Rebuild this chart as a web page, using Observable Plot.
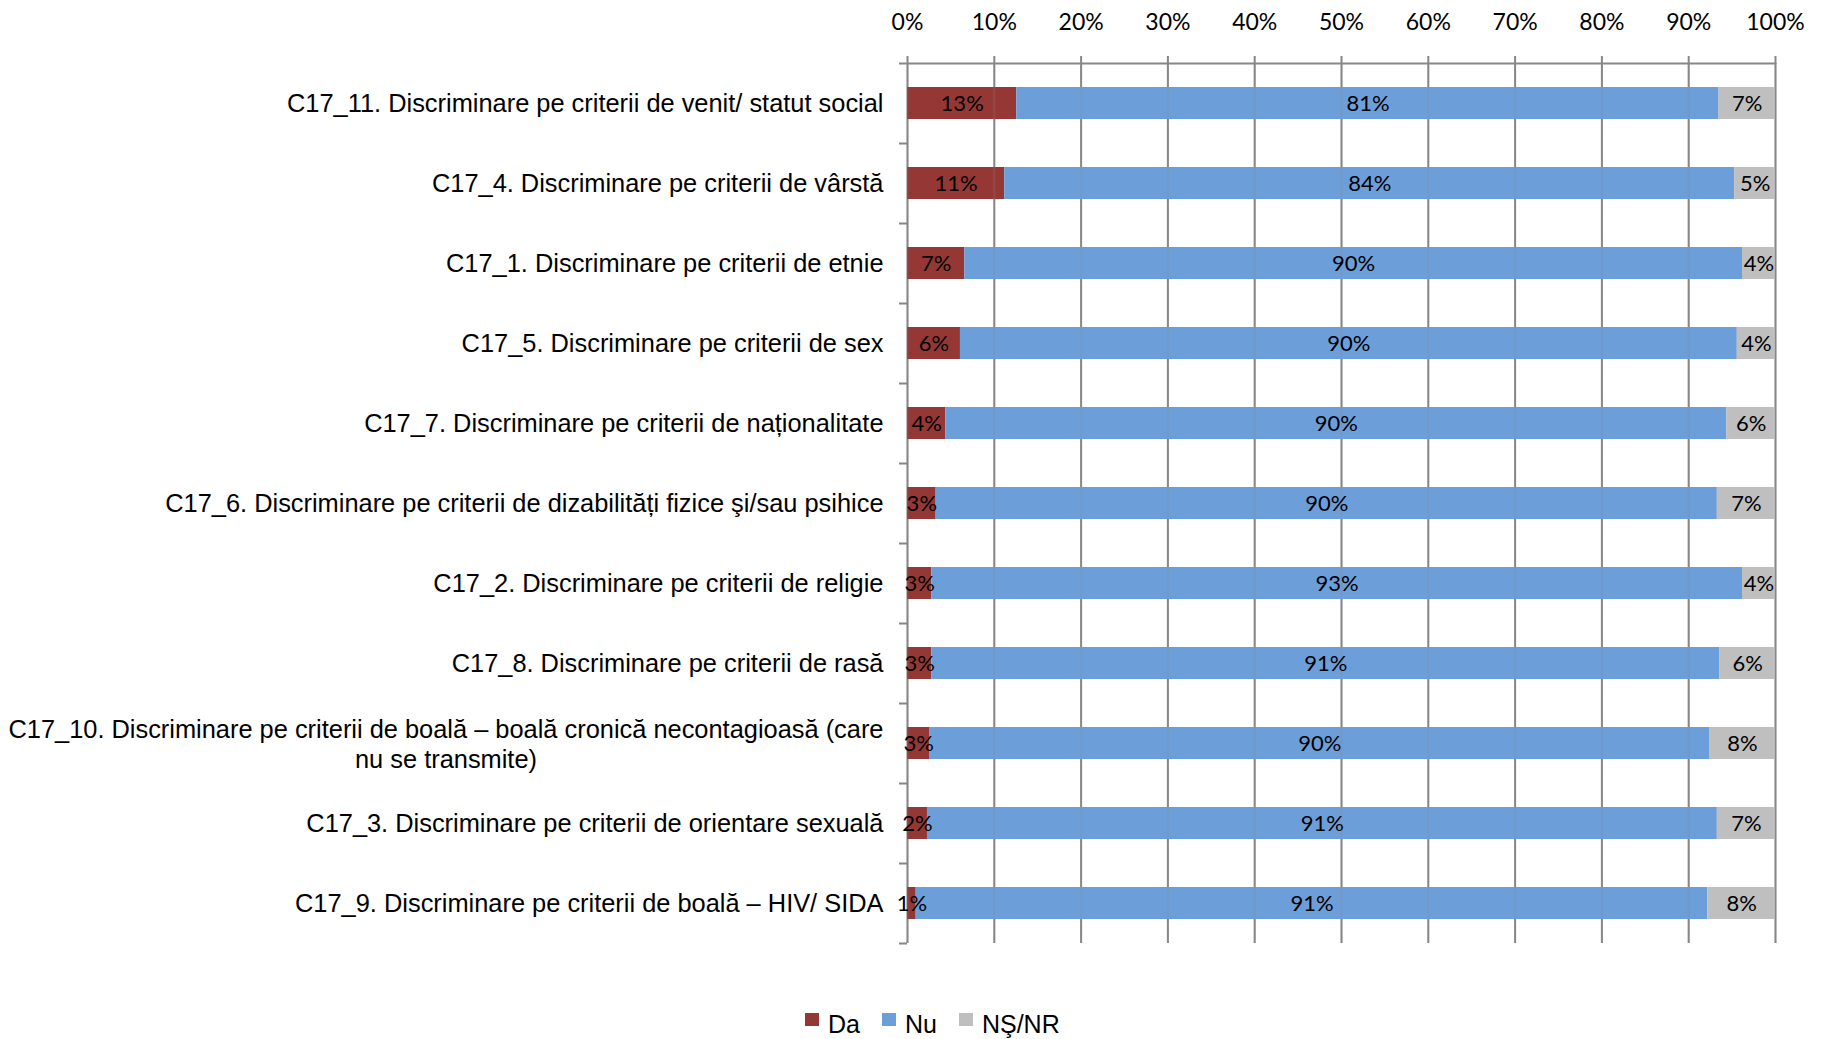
<!DOCTYPE html>
<html>
<head>
<meta charset="utf-8">
<script src="https://cdn.jsdelivr.net/npm/d3@7"></script>
<script src="https://cdn.jsdelivr.net/npm/@observablehq/plot@0.6"></script>
<style>
  html, body { margin: 0; padding: 0; background: #fff; }
  #chart { position: relative; width: 1827px; height: 1039px; }
  #legend { position: absolute; left: 805px; top: 1012px; display: flex; gap: 22px;
    font-family: "Liberation Sans", Arial, sans-serif; font-size: 25px; line-height: 25px; color: #000; }
  .item { display: flex; align-items: center; }
  .sw { display: inline-block; width: 14px; height: 13px; margin-right: 9px; position: relative; top: -5px; }
</style>
</head>
<body>
<div id="chart"></div>
<script>
// ---- data ----
const categories = [
  "C17_11. Discriminare pe criterii de venit/ statut social",
  "C17_4. Discriminare pe criterii de vârstă",
  "C17_1. Discriminare pe criterii de etnie",
  "C17_5. Discriminare pe criterii de sex",
  "C17_7. Discriminare pe criterii de naționalitate",
  "C17_6. Discriminare pe criterii de dizabilități fizice şi/sau psihice",
  "C17_2. Discriminare pe criterii de religie",
  "C17_8. Discriminare pe criterii de rasă",
  "C17_10. Discriminare pe criterii de boală – boală cronică necontagioasă (care nu se transmite)",
  "C17_3. Discriminare pe criterii de orientare sexuală",
  "C17_9. Discriminare pe criterii de boală – HIV/ SIDA"
];
const series = ["Da", "Nu", "NŞ/NR"];
const da   = [12.6, 11.2, 6.6, 6.1, 4.4, 3.3, 2.8, 2.8, 2.6, 2.3, 1.0];
const nu   = [80.9, 84.1, 89.6, 89.5, 90.0, 90.0, 93.4, 90.8, 89.8, 91.0, 91.2];
const nsnr = [6.5, 4.7, 3.8, 4.4, 5.6, 6.7, 3.8, 6.4, 7.6, 6.7, 7.8];
const xTicks = [0, 10, 20, 30, 40, 50, 60, 70, 80, 90, 100];
const colors = ["#953735", "#6C9EDA", "#BFBFBF"];

// ---- table ----
const seriesValues = [da, nu, nsnr];
const rows = [];
categories.forEach((c, i) => {
  series.forEach((s, j) => rows.push({cat: c, series: s, value: seriesValues[j][i]}));
});

const W = 1827, H = 1000, mt = 63, mb = 57, ml = 907, mr = 52;
const step = (H - mt - mb) / categories.length;
const grid = "#878787";
const catFont = 25.4;

const wrapLabel = d => d.replace(" (care nu", " (care\nnu");
const longCat = categories.find(c => c.includes("(care"));
const ctx = document.createElement("canvas").getContext("2d");
ctx.font = catFont + 'px "Liberation Sans", Arial, sans-serif';
const longW = ctx.measureText(wrapLabel(longCat).split("\n")[0]).width;

const chart = Plot.plot({
  width: W, height: H,
  marginTop: mt, marginBottom: mb, marginLeft: ml, marginRight: mr,
  style: {fontFamily: '"Liberation Sans", Arial, sans-serif', background: "#fff", color: "#000"},
  x: {domain: [0, 100]},
  y: {domain: categories, paddingInner: 0.6, paddingOuter: 0.3},
  color: {domain: series, range: colors},
  marks: [
    Plot.ruleX(xTicks, {stroke: grid, strokeWidth: 2}),
    Plot.ruleY([categories[0]], {dy: -step / 2, stroke: grid, strokeWidth: 2}),
    Plot.barX(rows, Plot.stackX({x: "value", y: "cat", fill: "series", z: "series"})),
    Plot.ruleX(xTicks, {stroke: grid, strokeWidth: 2, strokeOpacity: 0.22}),
    Plot.text(rows, Plot.stackX({x: "value", y: "cat", z: "series",
      text: d => Math.round(d.value) + "%",
      fontFamily: "Lato, 'Liberation Sans', sans-serif", fontSize: 22, fill: "#000"})),
    Plot.axisX({anchor: "top", ticks: xTicks, tickFormat: d => d + "%", tickSize: 8,
      tickPadding: 26, stroke: grid, strokeWidth: 2, label: null,
      fontFamily: "Lato, 'Liberation Sans', sans-serif", fontSize: 23}),
    // category boundary tick marks on the left
    Plot.axisY({tickSize: 8, tickFormat: () => "", dy: -step / 2, stroke: grid, strokeWidth: 2, label: null}),
    Plot.axisY([categories[categories.length - 1]], {tickSize: 8, tickFormat: () => "", dy: step / 2, stroke: grid, strokeWidth: 2, label: null}),
    // category labels
    Plot.axisY(categories.filter(c => c !== longCat), {tickSize: 0, tickPadding: 24, fontSize: catFont, label: null}),
    Plot.axisY([longCat], {tickSize: 0, tickPadding: 24 + longW / 2, textAnchor: "middle",
      tickFormat: wrapLabel, lineHeight: 1.2, fontSize: catFont, label: null})
  ]
});

const root = document.getElementById("chart");
root.appendChild(chart);
const legend = document.createElement("div");
legend.id = "legend";
series.forEach((s, i) => {
  const it = document.createElement("div");
  it.className = "item";
  const sw = document.createElement("span");
  sw.className = "sw";
  sw.style.background = colors[i];
  it.appendChild(sw);
  it.appendChild(document.createTextNode(s));
  legend.appendChild(it);
});
root.appendChild(legend);
</script>
</body>
</html>
